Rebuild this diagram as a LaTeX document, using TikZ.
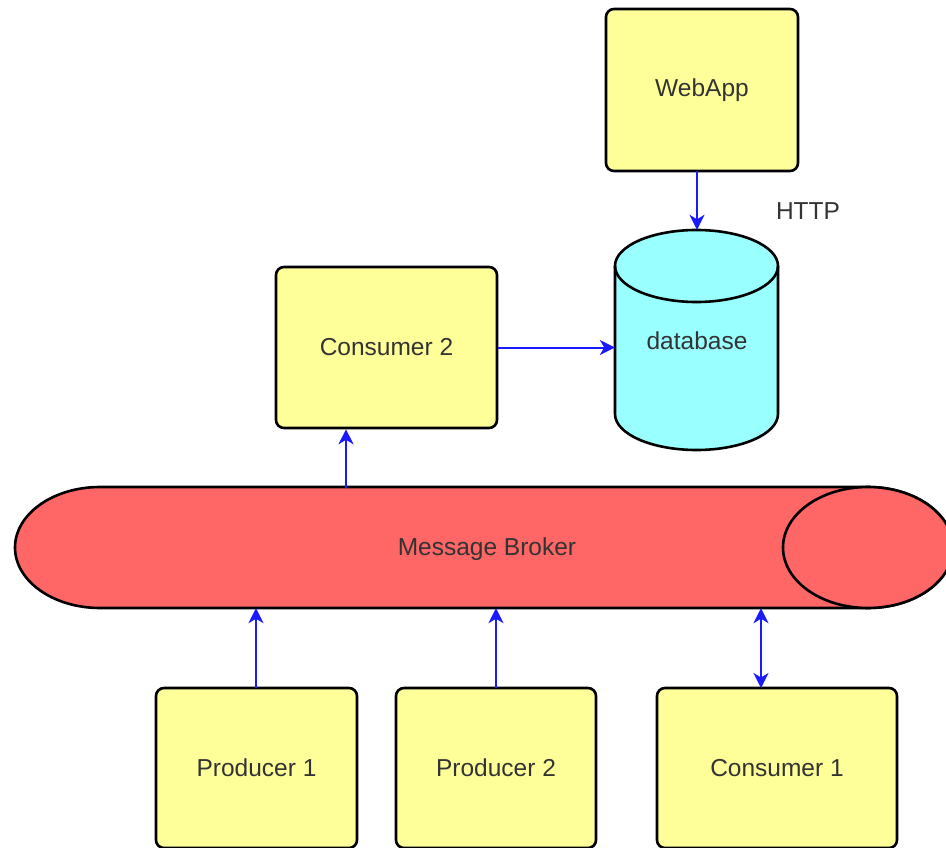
\documentclass[tikz,border=0pt]{standalone}
\usepackage{fontspec}
\setmainfont{Liberation Sans}
\usetikzlibrary{arrows.meta}
\definecolor{boxyellow}{HTML}{FFFF99}
\definecolor{dbcyan}{HTML}{99FFFF}
\definecolor{brokerred}{HTML}{FF6666}
\definecolor{txt}{HTML}{333333}
\definecolor{arrowblue}{HTML}{1A1AFF}
\tikzset{
  boxnode/.style={draw=black, line width=2.6pt, fill=boxyellow, rounded corners=8pt,
    inner sep=0pt, text=txt, font=\fontsize{24.5}{27}\selectfont},
  conn/.style={draw=arrowblue, line width=2pt, -{Stealth[length=15pt,width=15pt,inset=4.5pt]}},
  biconn/.style={draw=arrowblue, line width=2pt, {Stealth[length=15pt,width=15pt,inset=4.5pt]}-{Stealth[length=15pt,width=15pt,inset=4.5pt]}},
  outline/.style={draw=black, line width=2.6pt},
  lbl/.style={text=txt, font=\fontsize{24.5}{27}\selectfont, inner sep=0pt}
}
\begin{document}
\begin{tikzpicture}[x=1pt,y=-1pt]
\useasboundingbox (0,0) rectangle (946,848);
\begin{scope}
\clip (0,0) rectangle (946,848);
% Message broker (horizontal cylinder)
\path[outline, fill=brokerred] (100,487) -- (868,487)
  arc[start angle=-90, end angle=90, x radius=85, y radius=60.5]
  -- (100,608)
  arc[start angle=90, end angle=270, x radius=85, y radius=60.5] -- cycle;
\path[outline, fill=brokerred] (868,547.5) ellipse[x radius=85, y radius=60.5];
\node[inner sep=0pt, minimum width=938pt, minimum height=121pt] (broker) at (484,547.5) {};
\node[lbl] (brokerlbl) at (487,549) {Message Broker};

% Database cylinder
\path[outline, fill=dbcyan] (615,266) -- (615,414)
  arc[start angle=180, end angle=0, x radius=81.5, y radius=36]
  -- (778,266)
  arc[start angle=0, end angle=-180, x radius=81.5, y radius=36] -- cycle;
\draw[outline] (615,266) arc[start angle=180, end angle=0, x radius=81.5, y radius=36];
\node[inner sep=0pt, minimum width=163pt, minimum height=220pt] (db) at (696.5,340) {};
\node[lbl] (dblbl) at (697,341) {database};

% Boxes
\node[boxnode, minimum width=192pt, minimum height=162pt] (webapp) at (702,90) {WebApp};
\node[boxnode, minimum width=221pt, minimum height=161pt] (c2) at (386.5,347.5) {Consumer 2};
\node[boxnode, minimum width=201pt, minimum height=160pt] (p1) at (256.5,768) {Producer 1};
\node[boxnode, minimum width=200pt, minimum height=160pt] (p2) at (496,768) {Producer 2};
\node[boxnode, minimum width=240pt, minimum height=160pt] (c1) at (777,768) {Consumer 1};

\node[lbl] (http) at (808,211) {HTTP};

% Connectors
\coordinate (wa) at (697,171);
\draw[conn] (wa) -- (wa |- db.north);
\draw[conn] (c2.east) -- (db.west |- c2.east);
\coordinate (bc2) at (346,488);
\draw[conn] (bc2) -- (bc2 |- c2.south);
\coordinate (p1t) at (256,688);
\draw[conn] (p1t) -- (p1t |- broker.south);
\coordinate (p2t) at (496,688);
\draw[conn] (p2t) -- (p2t |- broker.south);
\coordinate (c1t) at (761,688);
\draw[biconn] (c1t) -- (c1t |- broker.south);
\end{scope}
\end{tikzpicture}
\end{document}
